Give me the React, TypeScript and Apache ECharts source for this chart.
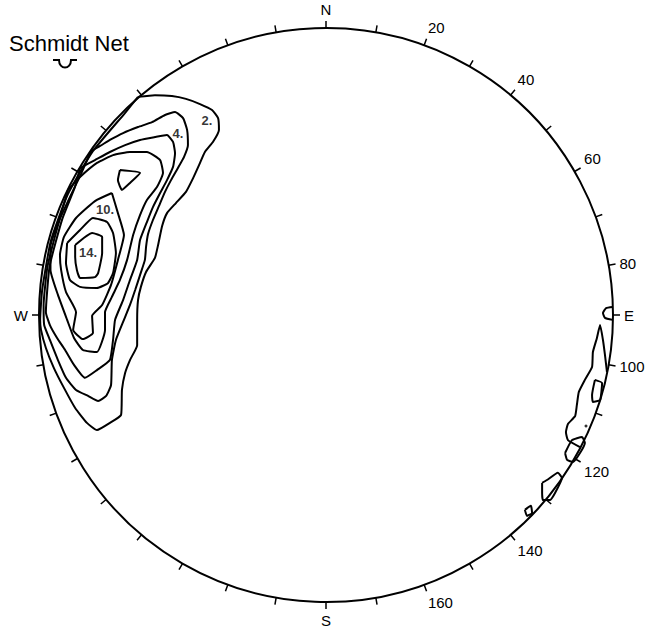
import React, { useEffect, useRef } from "react";
import * as echarts from "echarts";

// Compass and degree labels on the primitive circle
const compassLabels: Record<number, string> = { 0: "N", 90: "E", 180: "S", 270: "W" };
const degreeLabels: number[] = [20, 40, 60, 80, 100, 120, 140, 160];

// Contours in net coordinates (percent of net radius, x east, y north)
const contour2: number[][] = [
  [-65.5, 76.0], [-59.6, 76.6], [-53.7, 76.3], [-48.8, 75.3], [-43.9, 73.5], [-39.7, 71.4], [-37.6, 68.6],
  [-37.3, 64.5], [-39.4, 60.3], [-42.2, 56.8], [-44.2, 52.3], [-46.3, 47.7], [-48.8, 42.9], [-52.3, 39.0],
  [-55.4, 35.5], [-57.1, 31.0], [-58.5, 24.4], [-59.6, 19.9], [-62.7, 15.0], [-64.5, 9.8], [-65.5, 5.2],
  [-65.8, -1.7], [-65.8, -10.5], [-68.3, -15.7], [-70.0, -20.2], [-71.1, -26.1], [-71.4, -34.8], [-75.3, -37.6],
  [-79.8, -40.1], [-83.3, -37.6], [-87.4, -32.4], [-91.3, -25.4], [-94.8, -18.5], [-97.6, -11.5], [-99.3, -5.2],
  [-99.6, -1.7], [-98.9, 8.7], [-95.9, 25.7], [-90.0, 42.0], [-81.3, 57.0], [-70.2, 70.2], [-65.5, 76.0],
];
const contour4: number[][] = [
  [-81.9, 57.1], [-78.7, 58.9], [-75.3, 61.0], [-70.7, 63.4], [-65.5, 65.5], [-60.6, 67.2], [-56.1, 69.7],
  [-52.6, 70.7], [-49.8, 68.6], [-48.4, 64.5], [-48.1, 59.2], [-49.5, 55.0], [-51.6, 51.2], [-54.0, 47.0],
  [-56.1, 42.9], [-58.2, 38.0], [-60.3, 33.1], [-62.0, 28.2], [-62.7, 23.7], [-63.1, 19.2], [-64.8, 13.9],
  [-66.5, 8.7], [-68.3, 3.5], [-70.4, -1.7], [-73.2, -8.7], [-74.6, -15.7], [-74.9, -24.4], [-76.6, -28.2],
  [-79.4, -30.0], [-82.9, -28.2], [-87.1, -26.1], [-90.6, -21.9], [-93.4, -15.7], [-96.2, -8.7], [-98.2, -3.5],
  [-98.4, 3.4], [-97.0, 17.1], [-92.6, 33.7], [-85.3, 49.3], [-81.9, 57.1],
];
const contour6: number[][] = [
  [-85.7, 51.2], [-80.5, 54.0], [-75.3, 56.8], [-70.0, 59.2], [-64.8, 61.0], [-59.6, 62.0], [-55.4, 62.7],
  [-53.3, 60.3], [-52.6, 56.4], [-53.3, 51.6], [-55.4, 47.0], [-57.8, 42.5], [-60.3, 37.6], [-62.4, 32.4],
  [-64.8, 26.1], [-65.8, 19.2], [-68.3, 12.2], [-70.7, 5.2], [-73.5, -1.7], [-74.2, -8.7], [-75.3, -15.7],
  [-79.8, -19.2], [-84.0, -21.9], [-87.8, -17.4], [-90.9, -12.2], [-93.7, -8.0], [-96.2, -3.5], [-97.6, 1.0],
  [-96.3, 17.0], [-91.9, 33.4], [-87.5, 44.5], [-85.7, 51.2],
];
const contour8: number[][] = [
  [-89.9, 43.6], [-85.7, 48.1], [-79.8, 53.0], [-74.2, 55.7], [-68.3, 56.8], [-62.4, 56.8], [-57.8, 54.0],
  [-56.8, 49.5], [-58.9, 44.6], [-62.4, 40.1], [-64.8, 34.8], [-67.2, 27.9], [-69.3, 19.2], [-71.8, 12.2],
  [-74.6, 6.3], [-77.0, 1.0], [-77.0, -5.2], [-79.8, -12.9], [-84.7, -12.2], [-87.8, -8.0], [-90.2, -1.7],
  [-93.4, 7.0], [-96.0, 15.7], [-96.0, 24.0], [-93.0, 33.0], [-89.9, 43.6],
];
const contour10: number[][] = [
  [-74.6, 42.5], [-72.5, 35.5], [-70.4, 27.9], [-72.5, 19.2], [-74.9, 10.5], [-78.0, 3.5], [-81.5, -0.3],
  [-81.2, -6.3], [-84.7, -8.4], [-88.1, -5.2], [-87.1, 1.0], [-90.6, 8.0], [-92.3, 15.7], [-92.7, 20.9],
  [-91.3, 27.2], [-87.1, 33.8], [-80.5, 39.7], [-74.6, 42.5],
];
const contour10b: number[][] = [
  [-71.8, 50.5], [-64.8, 49.5], [-68.3, 46.0], [-71.1, 43.6], [-72.5, 47.0], [-71.8, 50.5],
];
const contour12: number[][] = [
  [-90.2, 25.1], [-85.7, 29.6], [-81.2, 33.8], [-76.3, 32.4], [-74.2, 28.6], [-73.2, 21.6], [-74.2, 14.6],
  [-76.0, 11.1], [-79.8, 9.4], [-85.7, 9.8], [-89.2, 12.2], [-90.6, 18.1], [-90.2, 25.1],
];
const contour14: number[][] = [
  [-87.4, 24.4], [-81.5, 28.6], [-78.0, 27.2], [-78.0, 21.6], [-79.4, 14.6], [-80.5, 13.2], [-85.7, 12.9],
  [-86.8, 15.7], [-87.4, 20.2], [-87.4, 24.4],
];
const eastLoop: number[][] = [[99.9, 2.8], [97.6, 2.4], [96.5, 0.7], [97.2, -1.0], [99.9, -1.7]];
const eastLong: number[][] = [
  [97.9, -19.9], [97.2, -13.9], [96.5, -8.7], [95.5, -3.5], [94.4, -8.0], [93.0, -12.9], [92.7, -18.1],
  [90.2, -22.6], [88.1, -26.8], [87.4, -31.4], [86.8, -35.2], [84.3, -38.0], [83.6, -40.8], [84.3, -43.6],
  [88.5, -46.0],
];
const eastSmall: number[][] = [[93.7, -22.6], [96.2, -23.7], [95.5, -29.6], [93.0, -30.3], [92.7, -27.9], [93.7, -22.6]];
const southEast1: number[][] = [
  [83.3, -48.1], [85.7, -43.6], [89.2, -42.5], [90.2, -44.6], [88.5, -48.1], [86.1, -51.2], [84.0, -50.5], [83.3, -48.1],
];
const southEast2: number[][] = [
  [75.3, -58.5], [77.0, -57.5], [80.8, -55.0], [82.2, -56.8], [79.8, -62.0], [78.0, -64.5], [75.6, -64.5],
  [75.3, -62.0], [75.3, -58.5],
];
const southEast3: number[][] = [[69.3, -67.9], [71.4, -66.5], [71.8, -69.0], [70.0, -70.0], [69.3, -67.9]];
const dots: number[][] = [[90.6, -38.7]];

const contourLabels = [
  { name: "2.", value: [-41.5, 67.9] },
  { name: "4.", value: [-51.6, 63.4] },
  { name: "10.", value: [-77.0, 36.6] },
  { name: "14.", value: [-82.9, 21.9] },
];

const contours: number[][][] = [
  contour2, contour4, contour6, contour8, contour10, contour10b, contour12, contour14,
  eastLoop, eastLong, eastSmall, southEast1, southEast2, southEast3,
];

let registered = false;
function registerCup() {
  if (registered) return;
  registered = true;
  echarts.graphic.registerShape(
    "cup",
    echarts.graphic.extendPath("M0,0 L6,0 C6,10 18,10 18,0 L24,0", {}) as any
  );
}

export default function App() {
  const ref = useRef<HTMLDivElement>(null);

  useEffect(() => {
    document.body.style.margin = "0";
    registerCup();
    if (!ref.current) return;
    const chart = echarts.init(ref.current, undefined, { renderer: "svg" });
    const font = "Arial, 'Liberation Sans', Helvetica, sans-serif";

    const option: any = {
      animation: false,
      backgroundColor: "#ffffff",
      title: {
        text: "Schmidt Net",
        left: 4,
        top: 27,
        textStyle: { fontFamily: font, fontSize: 22, fontWeight: "normal", color: "#000" },
      },
      polar: { center: [326, 315], radius: 287 },
      angleAxis: {
        type: "value",
        min: 0,
        max: 360,
        interval: 10,
        startAngle: 90,
        clockwise: true,
        axisLine: { show: true, lineStyle: { color: "#000", width: 2 } },
        axisTick: { show: true, inside: false, length: 7, lineStyle: { color: "#000", width: 1.5 } },
        axisLabel: {
          show: true,
          margin: 11,
          color: "#000",
          fontFamily: font,
          fontSize: 15,
          formatter: (v: number) => {
            if (compassLabels[v] !== undefined) return compassLabels[v];
            if (degreeLabels.indexOf(v) >= 0) return String(v);
            return "";
          },
        },
        splitLine: { show: false },
      },
      radiusAxis: {
        type: "value",
        min: 0,
        max: 100,
        axisLine: { show: false },
        axisTick: { show: false },
        axisLabel: { show: false },
        splitLine: { show: false },
      },
      grid: { left: 39, top: 28, width: 574, height: 574 },
      xAxis: { type: "value", min: -100, max: 100, show: false },
      yAxis: { type: "value", min: -100, max: 100, show: false },
      graphic: [
        {
          type: "cup",
          x: 53,
          y: 60,
          style: { stroke: "#000", lineWidth: 2, fill: "none" },
        },
      ],
      series: [
        ...contours.map((c) => ({
          type: "line",
          coordinateSystem: "cartesian2d",
          data: c,
          symbol: "none",
          smooth: 0.15,
          clip: false,
          lineStyle: { color: "#000", width: 2 },
          silent: true,
        })),
        {
          type: "scatter",
          data: dots,
          symbolSize: 3,
          itemStyle: { color: "#000" },
          silent: true,
        },
        {
          type: "scatter",
          data: contourLabels,
          symbolSize: 1,
          itemStyle: { color: "rgba(0,0,0,0)" },
          label: {
            show: true,
            position: "inside",
            formatter: (p: any) => p.name,
            color: "#000",
            fontFamily: font,
            fontSize: 13,
            fontWeight: "bold",
          },
          silent: true,
        },
      ],
    };

    chart.setOption(option);
    return () => chart.dispose();
  }, []);

  return <div ref={ref} style={{ width: 652, height: 634 }} />;
}
